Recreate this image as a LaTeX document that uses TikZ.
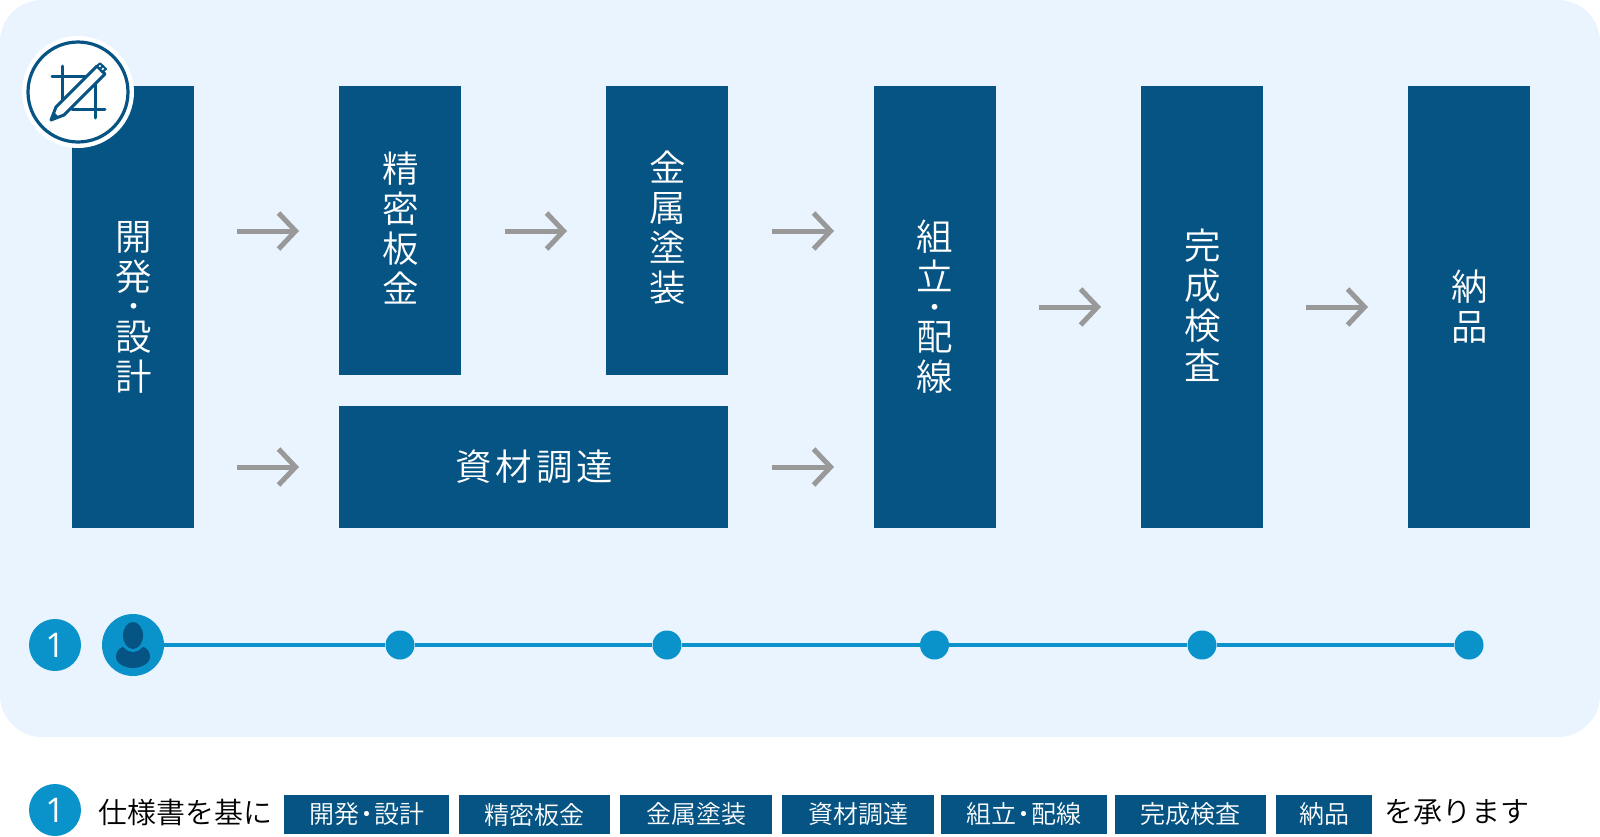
\documentclass[tikz,border=0pt]{standalone}
\usepackage{fontspec}
\setmainfont{Noto Sans CJK JP}[UprightFont={* DemiLight},BoldFont={*}]
\newfontfamily\lat{Open Sans}
\usetikzlibrary{arrows.meta}
\definecolor{panelbg}{HTML}{E9F4FF}
\definecolor{navy}{HTML}{065484}
\definecolor{cyanb}{HTML}{0A93CB}
\definecolor{arrowgr}{HTML}{999999}
\newcommand{\sk}{\hspace{4pt}}
\newcommand{\td}{\hspace{-5pt}・\hspace{-5pt}}
\newcommand{\vdot}{{\fontsize{27}{27}\selectfont\bfseries\raisebox{3.4pt}{・}}}
\tikzset{
  x=1pt,y=-1pt,
  flowbox/.style={fill=navy,inner sep=0pt,anchor=center},
  flowtext/.style={text=white,inner sep=0pt,align=center,anchor=center,xshift=0.7pt,font=\fontsize{36.5}{40}\selectfont},
  tagbox/.style={fill=navy,text=white,inner sep=0pt,minimum height=39pt,anchor=center,font=\fontsize{25}{25}\selectfont},
  flowarrow/.style={draw=arrowgr,line width=5pt,-{Straight Barb[length=17pt,width=36pt,line width=5pt]}},
  dotn/.style={circle,fill=cyanb,inner sep=0pt,minimum size=29pt},
  numc/.style={circle,fill=cyanb,text=white,inner sep=0pt,minimum size=52pt,font=\lat\fontsize{34}{34}\selectfont},
  plain/.style={inner sep=0pt,anchor=west,font=\fontsize{29}{29}\selectfont,text=black},
}
\begin{document}
\begin{tikzpicture}
\useasboundingbox (0,0) rectangle (1600,836);
\fill[panelbg,rounded corners=42pt] (0,0) rectangle (1600,737);
% flow boxes
\node[flowbox,minimum width=122pt,minimum height=442pt] (a) at (133,307) {};
\node[flowbox,minimum width=122pt,minimum height=289pt] (b) at (400,230) {};
\node[flowbox,minimum width=122pt,minimum height=289pt] (c) at (667,230) {};
\node[flowbox,minimum width=389pt,minimum height=122pt] (d) at (533.5,467) {};
\node[flowbox,minimum width=122pt,minimum height=442pt] (e) at (934.5,307) {};
\node[flowbox,minimum width=122pt,minimum height=442pt] (f) at (1202,307) {};
\node[flowbox,minimum width=122pt,minimum height=442pt] (g) at (1469,307) {};
\node[flowtext] (at) at (a.center) {開\\発\\[-10pt]\vdot\\[-10pt]設\\計};
\node[flowtext,yshift=2pt] (bt) at (b.center) {精\\密\\板\\金};
\node[flowtext,yshift=2pt] (ct) at (c.center) {金\\属\\塗\\装};
\node[flowtext] (dt) at (d.center) {資\sk 材\sk 調\sk 達};
\node[flowtext] (et) at (e.center) {組\\立\\[-10pt]\vdot\\[-10pt]配\\線};
\node[flowtext,yshift=2pt] (ft) at (f.center) {完\\成\\検\\査};
\node[flowtext] (gt) at (g.center) {納\\品};
% arrows
\coordinate (a1s) at (237,231); \coordinate (a1e) at (299,231);
\coordinate (a2s) at (505,231); \coordinate (a2e) at (567,231);
\coordinate (a3s) at (772,231); \coordinate (a3e) at (834,231);
\coordinate (a4s) at (237,467); \coordinate (a4e) at (299,467);
\coordinate (a5s) at (772,467); \coordinate (a5e) at (834,467);
\coordinate (a6s) at (1039,307); \coordinate (a6e) at (1101,307);
\coordinate (a7s) at (1306,307); \coordinate (a7e) at (1368,307);
\foreach \n in {1,...,7} \draw[flowarrow] (a\n s) -- (a\n e);
% icon
\node[circle,fill=white,inner sep=0pt,minimum size=112pt] (iconbg) at (78,92) {};
\node[circle,draw=navy,line width=3.2pt,inner sep=0pt,minimum size=100pt] (icon) at (78,92) {};
\begin{scope}[draw=navy,line width=3pt,line cap=round,line join=round]
\draw (52,76) -- (86,76);
\draw (62,66) -- (62,104);
\draw (72,109) -- (105,109);
\draw (95,80) -- (95,118);
\draw[fill=white] (51,120) -- (56,107) -- (97,66) -- (105,74) -- (64,115) -- cycle;
\fill[navy] (51,120) -- (54,112) -- (59,117) -- cycle;
\draw[line width=2pt,fill=white] (100,63.5) -- (103,66) -- (100,69) -- (97,66) -- cycle;
\draw[line width=2pt,fill=white] (103,66) -- (106,69) -- (102,72) -- (100,69) -- cycle;
\end{scope}
% timeline
\node[numc] (n1) at (55,645) {1};
\node[circle,fill=cyanb,inner sep=0pt,minimum size=62pt] (p) at (133,645) {};
\node[dotn] (t1) at (400,645) {};
\node[dotn] (t2) at (667,645) {};
\node[dotn] (t3) at (934.5,645) {};
\node[dotn] (t4) at (1202,645) {};
\node[dotn] (t5) at (1469,645) {};
\draw[cyanb,line width=3.5pt] (p) -- (t1);
\draw[cyanb,line width=3.5pt] (t1) -- (t2);
\draw[cyanb,line width=3.5pt] (t2) -- (t3);
\draw[cyanb,line width=3.5pt] (t3) -- (t4);
\draw[cyanb,line width=3.5pt] (t4) -- (t5);
% person
\fill[navy] (116,657) .. controls (116,648) and (124,645) .. (133,645) .. controls (142,645) and (150,648) .. (150,657) .. controls (150,664) and (140,668) .. (133,668) .. controls (126,668) and (116,664) .. (116,657) -- cycle;
\fill[cyanb] (133,635.5) ellipse (13pt and 16.5pt);
\fill[navy] (133,635.5) ellipse (10pt and 13.5pt);
% bottom
\node[numc] (n2) at (55,810) {1};
\node[plain] (l1) at (98.5,812) {仕様書を基に};
\node[tagbox,minimum width=165pt] (ta) at (366.5,814.5) {開発\td 設計};
\node[tagbox,minimum width=151pt] (tb) at (534.5,814.5) {精密板金};
\node[tagbox,minimum width=152pt] (tc) at (696,814.5) {金属塗装};
\node[tagbox,minimum width=152pt] (td) at (858,814.5) {資材調達};
\node[tagbox,minimum width=166pt] (te) at (1024,814.5) {組立\td 配線};
\node[tagbox,minimum width=151pt] (tf) at (1190.5,814.5) {完成検査};
\node[tagbox,minimum width=96pt] (tg) at (1324,814.5) {納品};
\node[plain] (l2) at (1384,812) {を承ります};
\end{tikzpicture}
\end{document}
